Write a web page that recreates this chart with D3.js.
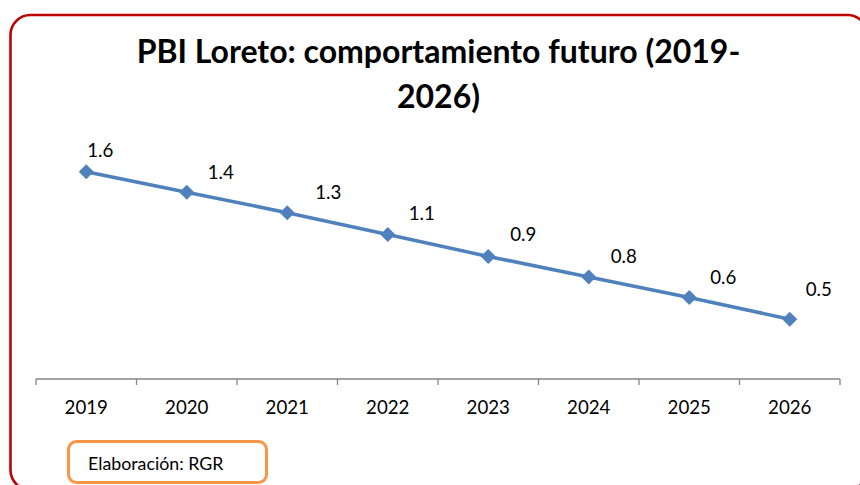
<!DOCTYPE html>
<html><head><meta charset="utf-8">
<script src="https://cdn.jsdelivr.net/npm/d3@7"></script>
<style>body{margin:0;background:#fff}svg{display:block}</style>
</head><body>
<svg id="c" width="860" height="485"></svg>
<script>
const years = ["2019","2020","2021","2022","2023","2024","2025","2026"];
const pbi = [1.56, 1.41, 1.26, 1.10, 0.94, 0.79, 0.64, 0.48];
const titleLines = ["PBI Loreto: comportamiento futuro (2019-", "2026)"];
const note = "Elaboración: RGR";

// label placement offsets (layout only)
const labelDx = [1, 21, 28, 21, 22, 22, 21, 16];
const labelDy = [-15, -13, -14, -15, -15, -14, -13, -23];

const svg = d3.select("#c");
const font = "Lato, 'Open Sans', sans-serif";

svg.append("rect").attr("x",10.5).attr("y",15).attr("width",857).attr("height",475)
  .attr("rx",20).attr("fill","#fff").attr("stroke","#C00000").attr("stroke-width",2.6);

svg.append("text").attr("x",438).attr("text-anchor","middle")
  .attr("font-family",font).attr("font-weight","bold").attr("font-size",32).attr("fill","#000")
  .selectAll("tspan").data(titleLines).join("tspan")
  .attr("x",438.5).attr("y",(d,i)=>63+i*45).text(d=>d);

const x = d3.scaleBand().domain(years).range([36,840]);
const y = d3.scaleLinear().domain([0,1.8]).range([384.9, 384.9-1.8*136.7]);
const axisY = 379;

const ax = svg.append("g").attr("transform",`translate(0,${axisY})`);
ax.append("line").attr("x1",36).attr("x2",840).attr("stroke","#868686").attr("stroke-width",1.3);
const bounds = years.map(d=>x(d)).concat([x.range()[1]]);
ax.selectAll("line.t").data(bounds).join("line").attr("class","t")
  .attr("x1",d=>d).attr("x2",d=>d).attr("y1",0).attr("y2",6)
  .attr("stroke","#868686").attr("stroke-width",1.3);
ax.selectAll("text").data(years).join("text")
  .attr("x",d=>x(d)+x.bandwidth()/2).attr("y",35).attr("text-anchor","middle")
  .attr("font-family",font).attr("font-size",18.7).attr("fill","#000").text(d=>d);

const cx = (d,i)=>x(years[i])+x.bandwidth()/2;
svg.append("path").datum(pbi)
  .attr("d",d3.line().x(cx).y(d=>y(d)))
  .attr("fill","none").attr("stroke","#4F81BD").attr("stroke-width",3.6);

svg.selectAll("path.m").data(pbi).join("path").attr("class","m")
  .attr("d",d3.symbol(d3.symbolSquare,112)())
  .attr("transform",(d,i)=>`translate(${cx(d,i)},${y(d)}) rotate(45)`)
  .attr("fill","#4F81BD");

svg.selectAll("text.lab").data(pbi).join("text").attr("class","lab")
  .attr("x",(d,i)=>cx(d,i)+labelDx[i]).attr("y",(d,i)=>y(d)+labelDy[i])
  .attr("font-family",font).attr("font-size",18.7).attr("fill","#000")
  .text(d=>d3.format(".1f")(d));

svg.append("rect").attr("x",68.5).attr("y",441.5).attr("width",198).attr("height",41)
  .attr("rx",8).attr("fill","#fff").attr("stroke","#F79646").attr("stroke-width",3);
svg.append("text").attr("x",88).attr("y",470).attr("font-family",font).attr("font-size",17.8)
  .attr("fill","#000").text(note);
</script>
</body></html>
